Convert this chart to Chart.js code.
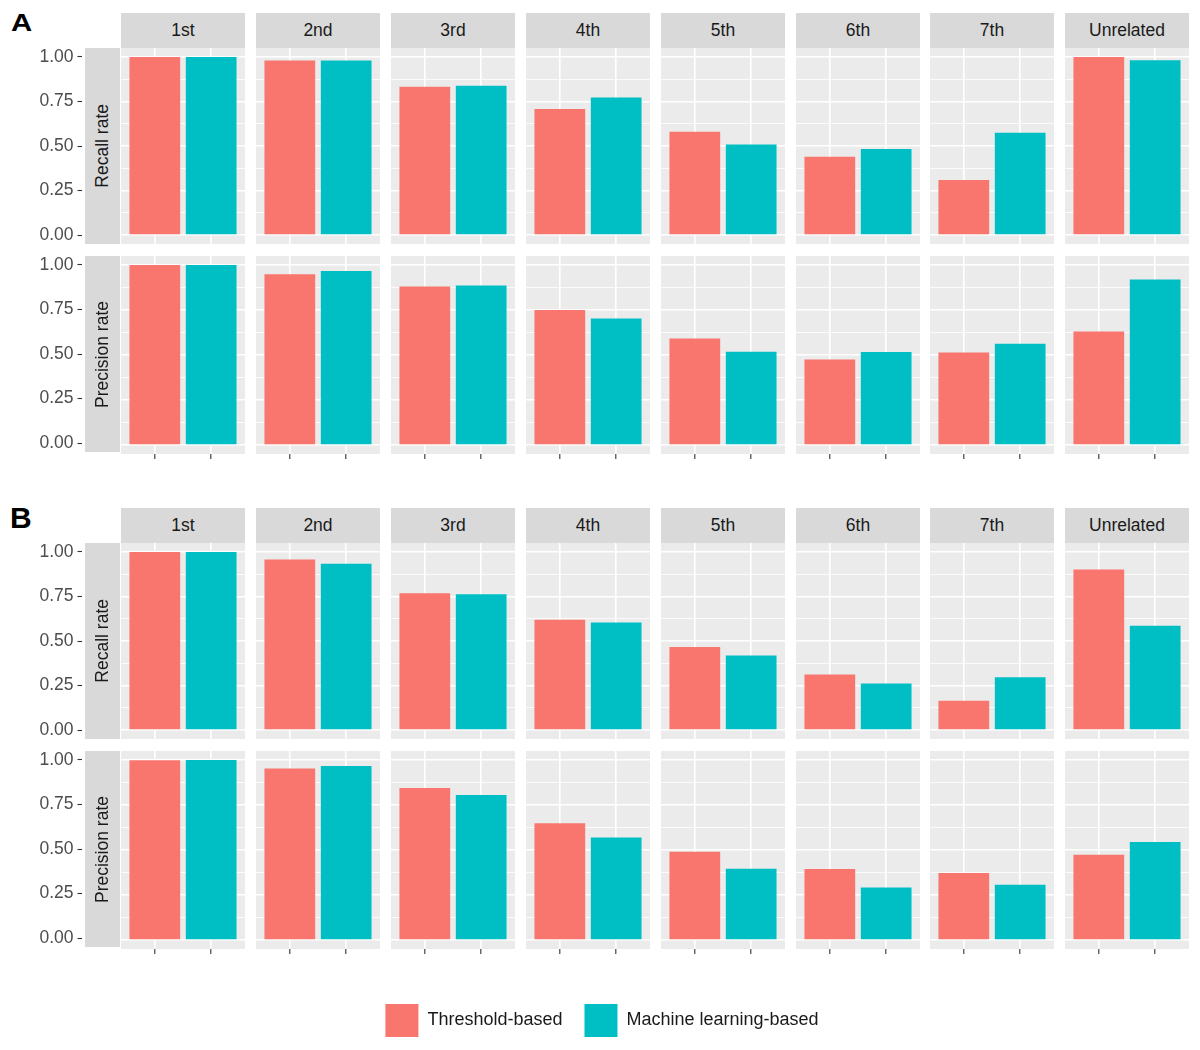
<!DOCTYPE html>
<html>
<head>
<meta charset="utf-8">
<script src="https://cdn.jsdelivr.net/npm/chart.js@4"></script>
<style>
  body { margin: 0; background: #fff; font-family: "Liberation Sans", Arial, sans-serif; }
  #page { position: relative; width: 1200px; height: 1050px; overflow: hidden; }
  .box { position: absolute; }
  .strip { position: absolute; background: #D9D9D9; color: #1A1A1A; font-size: 17.5px;
           display: flex; align-items: center; justify-content: center; z-index: 2; }
  .strip.row span { writing-mode: vertical-rl; transform: rotate(180deg); white-space: nowrap; }
  .tag { position: absolute; font-weight: bold; line-height: 1; color: #000; transform-origin: left top; }
</style>
</head>
<body>
<div id="page"></div>
<script>
// facet columns, rows and the two methods
const facets = ['1st', '2nd', '3rd', '4th', '5th', '6th', '7th', 'Unrelated'];
const rowNames = ['Recall rate', 'Precision rate'];
const methods = ['Threshold-based', 'Machine learning-based'];

// panel A
const recallA_threshold    = [1.00, 0.98, 0.833, 0.708, 0.580, 0.440, 0.309, 1.00];
const recallA_ml           = [1.00, 0.98, 0.838, 0.772, 0.509, 0.483, 0.575, 0.981];
const precisionA_threshold = [1.00, 0.948, 0.880, 0.750, 0.591, 0.475, 0.514, 0.630];
const precisionA_ml        = [1.00, 0.966, 0.886, 0.703, 0.518, 0.516, 0.563, 0.920];

// panel B
const recallB_threshold    = [1.00, 0.957, 0.768, 0.619, 0.467, 0.312, 0.164, 0.901];
const recallB_ml           = [1.00, 0.933, 0.763, 0.604, 0.419, 0.262, 0.297, 0.585];
const precisionB_threshold = [0.998, 0.953, 0.845, 0.649, 0.490, 0.394, 0.372, 0.473];
const precisionB_ml        = [1.00, 0.966, 0.806, 0.570, 0.396, 0.292, 0.307, 0.544];

// y axis breaks
const yTicks = [0, 0.25, 0.5, 0.75, 1];
const yTickLabels = ['0.00', '0.25', '0.50', '0.75', '1.00'];
const yMinor = [0.125, 0.375, 0.625, 0.875];

const RED = '#F8766D';
const TEAL = '#00BFC4';

Chart.defaults.font.family = '"Liberation Sans", Arial, sans-serif';

const page = document.getElementById('page');

// layout (px)
const colX = i => Math.round(121 + i * 134.9);
const PW = 124, PH = 196;
const panels = [
  { tag: 'A', tagLeft: 11, tagTop: 12, tagSize: 23.5, tagStretch: 1.25, stripTop: 13, rowTops: [48, 256],
    rows: [[recallA_threshold, recallA_ml], [precisionA_threshold, precisionA_ml]] },
  { tag: 'B', tagLeft: 10, tagTop: 503, tagSize: 30, tagStretch: 1, stripTop: 508, rowTops: [543, 751],
    rows: [[recallB_threshold, recallB_ml], [precisionB_threshold, precisionB_ml]] }
];

function addCanvas(left, top, w, h) {
  const div = document.createElement('div');
  div.className = 'box';
  div.style.left = left + 'px';
  div.style.top = top + 'px';
  const c = document.createElement('canvas');
  c.width = w;
  c.height = h;
  div.appendChild(c);
  page.appendChild(div);
  return c;
}

function addDiv(cls, left, top, w, h, text) {
  const d = document.createElement('div');
  d.className = cls;
  d.style.left = left + 'px';
  d.style.top = top + 'px';
  if (w) d.style.width = w + 'px';
  if (h) d.style.height = h + 'px';
  const s = document.createElement('span');
  s.textContent = text;
  d.appendChild(s);
  page.appendChild(d);
  return d;
}

const panelBg = {
  id: 'panelBg',
  beforeDraw(chart) {
    const { ctx, chartArea: a } = chart;
    ctx.save();
    ctx.fillStyle = '#EBEBEB';
    ctx.fillRect(a.left, a.top, a.width, a.height);
    ctx.restore();
  }
};

const yGrid = yTicks.concat(yMinor).sort((a, b) => a - b);

function facetChart(canvas, thr, ml, bottom) {
  return new Chart(canvas, {
    type: 'bar',
    data: {
      datasets: [{
        data: [{ x: 1, y: thr }, { x: 2, y: ml }],
        backgroundColor: [RED, TEAL],
        borderWidth: 0,
        categoryPercentage: 1,
        barPercentage: 0.9
      }]
    },
    options: {
      responsive: false,
      animation: false,
      layout: { padding: 0 },
      plugins: { legend: { display: false }, tooltip: { enabled: false } },
      scales: {
        x: {
          type: 'linear', min: 0.4, max: 2.6, offset: false,
          afterBuildTicks: s => { s.ticks = [{ value: 1 }, { value: 2 }]; },
          ticks: { display: false },
          grid: { offset: false, color: '#fff', lineWidth: 1.6, drawTicks: bottom, tickLength: 5, tickColor: '#333', tickWidth: 1.1 },
          border: { display: false }
        },
        y: {
          min: -0.05, max: 1.05,
          afterBuildTicks: s => { s.ticks = yGrid.map(v => ({ value: v })); },
          ticks: { display: false },
          grid: {
            color: '#fff', drawTicks: false,
            lineWidth: ctx => (yTicks.includes(ctx.tick.value) ? 1.6 : 0.8)
          },
          border: { display: false },
          afterFit: s => { s.width = 0; }
        }
      }
    },
    plugins: [panelBg]
  });
}

function axisChart(canvas) {
  return new Chart(canvas, {
    type: 'bar',
    data: { datasets: [] },
    options: {
      responsive: false,
      animation: false,
      layout: { padding: { top: 20, bottom: 20 } },
      plugins: { legend: { display: false }, tooltip: { enabled: false } },
      scales: {
        x: { display: false },
        y: {
          min: -0.05, max: 1.05,
          afterBuildTicks: s => { s.ticks = yTicks.map(v => ({ value: v })); },
          ticks: {
            color: '#4D4D4D', padding: 4, font: { size: 17.5 },
            callback: (v, i) => yTickLabels[i]
          },
          grid: { drawOnChartArea: false, drawTicks: true, tickLength: 4.5, tickColor: '#333', tickWidth: 1.1 },
          border: { display: false },
          afterFit: s => { s.width = 82; }
        }
      }
    }
  });
}

panels.forEach(p => {
  const t = addDiv('tag', p.tagLeft, p.tagTop, 0, 0, p.tag);
  t.style.fontSize = p.tagSize + 'px';
  t.style.transform = 'scaleX(' + p.tagStretch + ')';
  facets.forEach((f, i) => addDiv('strip', colX(i), p.stripTop, PW, 35, f));
  p.rows.forEach((series, r) => {
    const top = p.rowTops[r];
    const bottom = r === p.rows.length - 1;
    addDiv('strip row', 85, top, 35, PH, rowNames[r]);
    axisChart(addCanvas(0, top - 20, 120, PH + 40));
    facets.forEach((f, i) => {
      facetChart(addCanvas(colX(i), top, PW, PH + (bottom ? 7 : 0)), series[0][i], series[1][i], bottom);
    });
  });
});

// legend
new Chart(addCanvas(2, 982, 1200, 200), {
  type: 'bar',
  data: {
    labels: [],
    datasets: [
      { label: methods[0], data: [], backgroundColor: RED, borderWidth: 0 },
      { label: methods[1], data: [], backgroundColor: TEAL, borderWidth: 0 }
    ]
  },
  options: {
    responsive: false,
    animation: false,
    scales: { x: { display: false }, y: { display: false } },
    plugins: {
      tooltip: { enabled: false },
      legend: {
        display: true, position: 'top', align: 'center',
        labels: { boxWidth: 33, boxHeight: 33, padding: 22, color: '#1A1A1A', font: { size: 18 } }
      }
    }
  }
});
</script>
</body>
</html>
